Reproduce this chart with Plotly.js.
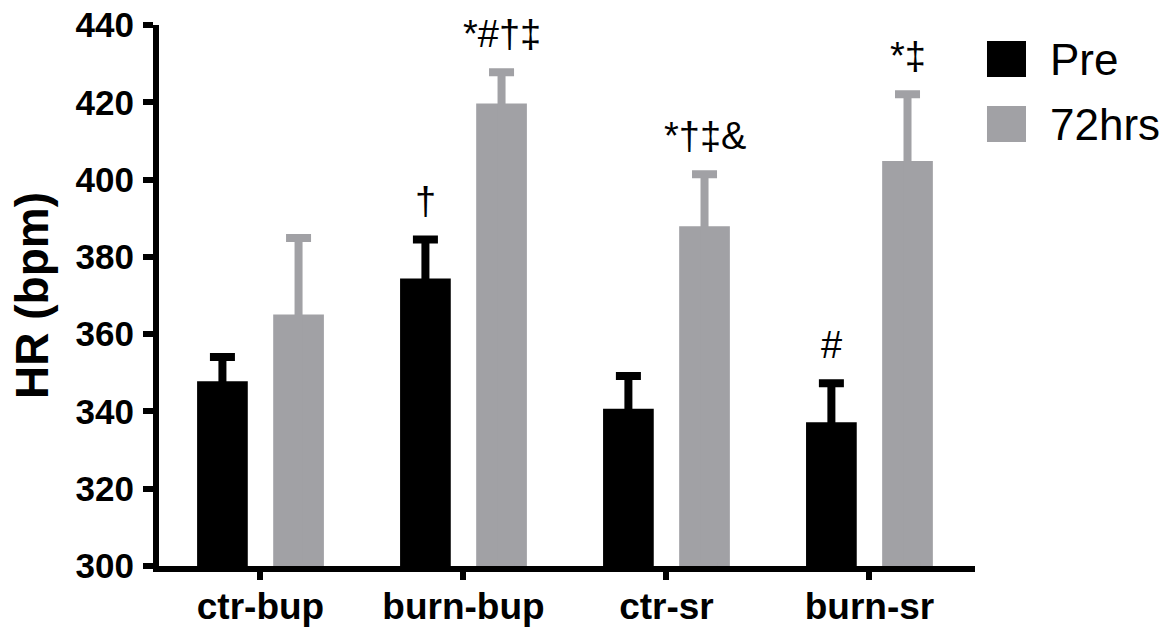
<!DOCTYPE html>
<html>
<head>
<meta charset="utf-8">
<script src="https://cdn.plot.ly/plotly-3.0.1.min.js"></script>
<style>html,body{margin:0;padding:0;background:#fff;}#chart{width:1173px;height:631px;}</style>
</head>
<body>
<div id="chart"></div>
<script>
// ---- data ----
const categories = ['ctr-bup', 'burn-bup', 'ctr-sr', 'burn-sr'];
const preValues = [347.8, 374.4, 340.7, 337.2];
const preErr = [6.3, 10.1, 8.5, 10.1];
const hrs72Values = [365.1, 419.7, 387.9, 404.8];
const hrs72Err = [19.8, 8.1, 13.5, 17.3];
const preMarks = ['', '\u2020', '', '#'];
const hrs72Marks = ['', '*#\u2020\u2021', '*\u2020\u2021&', '*\u2021'];
const seriesNames = ['Pre', '72hrs'];
const yTicks = [300, 320, 340, 360, 380, 400, 420, 440];
const yRange = [300, 440];

const BLACK = '#000000';
const GRAY = '#a1a1a5';
const FONT = 'Liberation Sans, Arial, Helvetica, sans-serif';

const bargap = 0.25;
const bargroupgap = 0.334;
const slotOffset = (1 - bargap) / 4; // centre offset of each bar in a 2-bar group

// upward-only error bar; the lower whisker runs down inside the bar (same colour) so no cap shows
function errBar(arr, vals, color) {
  return {type: 'data', symmetric: false, array: arr, arrayminus: vals.map(v => v - yRange[0]),
          color: color, thickness: 8, width: 12.5, visible: true};
}

const traces = [
  {type: 'bar', name: seriesNames[0], x: categories, y: preValues,
   marker: {color: BLACK, line: {width: 0}}, error_y: errBar(preErr, preValues, BLACK), showlegend: false},
  {type: 'bar', name: seriesNames[1], x: categories, y: hrs72Values,
   marker: {color: GRAY, line: {width: 0}}, error_y: errBar(hrs72Err, hrs72Values, GRAY), showlegend: false}
];

const annotations = [];
categories.forEach((c, i) => {
  if (preMarks[i]) annotations.push({x: i - slotOffset, y: preValues[i] + preErr[i], xref: 'x', yref: 'y',
    text: preMarks[i], showarrow: false, yanchor: 'middle', yshift: 38,
    font: {family: FONT, size: 38, color: '#000'}});
  if (hrs72Marks[i]) annotations.push({x: i + slotOffset, y: hrs72Values[i] + hrs72Err[i], xref: 'x', yref: 'y',
    text: hrs72Marks[i], showarrow: false, yanchor: 'middle', yshift: 38,
    font: {family: FONT, size: 38, color: '#000'}});
});

// legend (drawn manually to get large swatches)
const legendColors = [BLACK, GRAY];
const legendY = [[0.9039, 0.9704], [0.7837, 0.8503]];
const shapes = [];
seriesNames.forEach((n, k) => {
  shapes.push({type: 'rect', xref: 'paper', yref: 'paper', x0: 1.0147, x1: 1.0625,
    y0: legendY[k][0], y1: legendY[k][1], fillcolor: legendColors[k], line: {width: 0}});
  annotations.push({xref: 'paper', yref: 'paper', x: 1.0895, y: (legendY[k][0] + legendY[k][1]) / 2,
    xanchor: 'left', yanchor: 'middle', text: n, showarrow: false,
    font: {family: FONT, size: 44, color: '#000'}});
});

const layout = {
  width: 1173, height: 631,
  margin: {l: 159, r: 198, t: 25, b: 65, pad: 0},
  paper_bgcolor: '#fff', plot_bgcolor: '#fff',
  barmode: 'group', bargap: bargap, bargroupgap: bargroupgap,
  showlegend: false,
  font: {family: FONT, color: '#000'},
  xaxis: {
    type: 'category', range: [-0.5, 3.52], fixedrange: true,
    showline: true, linecolor: '#000', linewidth: 6, mirror: false,
    ticks: 'outside', ticklen: 8, tickwidth: 6, tickcolor: '#000',
    showgrid: false, zeroline: false,
    tickfont: {family: FONT, size: 37, weight: 'bold', color: '#000'},
    ticklabelstandoff: -5
  },
  yaxis: {
    range: yRange, tickvals: yTicks, ticktext: yTicks.map(String), fixedrange: true,
    showline: true, linecolor: '#000', linewidth: 6,
    ticks: 'outside', ticklen: 10, tickwidth: 6, tickcolor: '#000',
    showgrid: false, zeroline: false,
    tickfont: {family: FONT, size: 35, weight: 'bold', color: '#000'},
    ticklabelstandoff: 2,
    title: {text: 'HR (bpm)', font: {family: FONT, size: 46, weight: 'bold', color: '#000'}, standoff: 14}
  },
  shapes: shapes,
  annotations: annotations
};

Plotly.newPlot('chart', traces, layout, {displayModeBar: false, staticPlot: true});
</script>
</body>
</html>
